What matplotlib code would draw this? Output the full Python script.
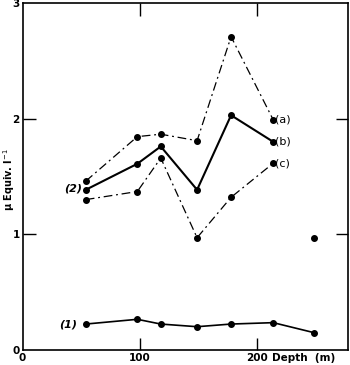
import matplotlib
matplotlib.use("Agg")
import matplotlib.pyplot as plt

depth = [54, 98, 118, 149, 178, 214]
series_a = [1.46, 1.845, 1.866, 1.81, 2.71, 1.99]
series_b = [1.385, 1.61, 1.76, 1.385, 2.03, 1.80]
series_c = [1.30, 1.37, 1.66, 0.97, 1.32, 1.615]
depth_1 = [54, 98, 118, 149, 178, 214, 249]
series_1 = [0.223, 0.264, 0.223, 0.20, 0.223, 0.235, 0.148]
iso_depth = [249]
iso_value = [0.968]
x_ticks = [0, 100, 200]
y_ticks = [0, 1, 2, 3]

fig = plt.figure(figsize=(3.5, 3.65), dpi=100)
ax = fig.add_axes([0.0643, 0.0416, 0.929, 0.9497])

dd = (0, (7, 3, 1.5, 3))
ax.plot(depth, series_a, color="black", lw=0.9, linestyle=dd, marker="o", ms=4)
ax.plot(depth, series_b, color="black", lw=1.5, linestyle="-", marker="o", ms=4)
ax.plot(depth, series_c, color="black", lw=0.9, linestyle=dd, marker="o", ms=4)
ax.plot(depth_1, series_1, color="black", lw=1.2, linestyle="-", marker="o", ms=4)
ax.plot(iso_depth, iso_value, color="black", linestyle="none", marker="o", ms=4)

ax.set_xlim(0, 277.5)
ax.set_ylim(0, 3)

ax.set_xticks(x_ticks)
ax.set_xticklabels(["0", "100", "200"], fontsize=7.5, fontweight="bold")
ax.set_yticks(y_ticks)
ax.set_yticklabels(["0", "1", "2", "3"], fontsize=7.5, fontweight="bold")
ax.tick_params(axis="both", direction="in", length=9, width=1.0,
               top=True, right=True, pad=2)
for t in ax.xaxis.get_major_ticks()[:1]:
    t.tick1line.set_visible(False)
    t.tick2line.set_visible(False)
for t in [ax.yaxis.get_major_ticks()[0], ax.yaxis.get_major_ticks()[3]]:
    t.tick1line.set_visible(False)
    t.tick2line.set_visible(False)

for s in ax.spines.values():
    s.set_linewidth(1.2)

ax.text(214 + 1.5, 1.99, "(a)", fontsize=8, va="center", ha="left")
ax.text(214 + 1.5, 1.80, "(b)", fontsize=8, va="center", ha="left")
ax.text(214 + 1.5, 1.615, "(c)", fontsize=8, va="center", ha="left")
ax.text(54 - 3, 1.395, "(2)", fontsize=8, va="center", ha="right", style="italic", fontweight="bold")
ax.text(54 - 7, 0.215, "(1)", fontsize=8, va="center", ha="right", style="italic", fontweight="bold")

ax.text(200 + 13, -0.07, "Depth  (m)", fontsize=7.5, fontweight="bold",
        va="center", ha="left", clip_on=False)
ax.set_ylabel("μ Equiv. l$^{-1}$", fontsize=7, fontweight="bold")
ax.yaxis.set_label_coords(-0.018, 0.49)

fig.savefig("out.png", dpi=100)
